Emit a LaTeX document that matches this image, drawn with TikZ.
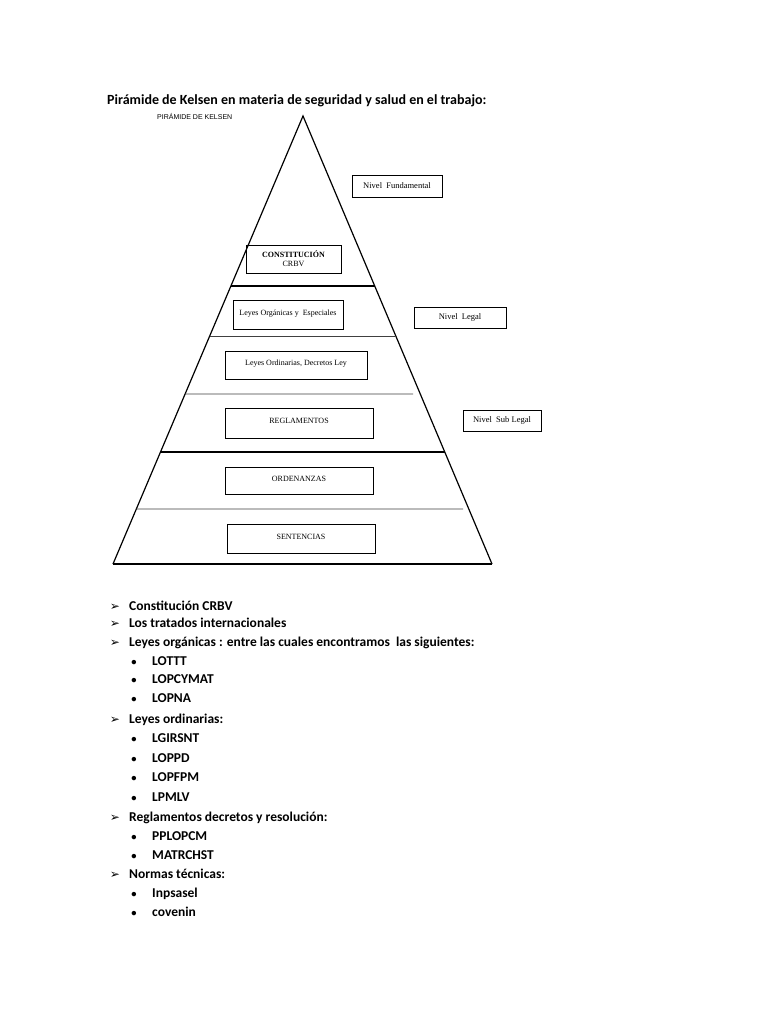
\documentclass[tikz,border=0pt]{standalone}
\usepackage{fontspec}
\setmainfont{Liberation Serif}
\newfontfamily\carlito{Carlito}
\newfontfamily\arialf{Liberation Sans}
\newfontfamily\dejavu{DejaVu Sans}
\usetikzlibrary{calc}
\tikzset{
  layerbox/.style={draw, line width=0.6pt, inner sep=0pt, font=\fontsize{8}{9.5}\selectfont, align=center},
  levelbox/.style={draw, line width=0.6pt, inner sep=0pt, font=\fontsize{8.5}{10}\selectfont},
  thickline/.style={line width=1.5pt},
  thinline/.style={line width=0.6pt, black!75},
  side/.style={line width=1.2pt},
  mainitem/.style={anchor=base west, inner sep=0pt, font=\carlito\bfseries\fontsize{13.5}{15}\selectfont},
  subitem/.style={anchor=base west, inner sep=0pt, font=\carlito\bfseries\fontsize{13.5}{15}\selectfont},
  arrowmark/.style={anchor=base, inner sep=0pt, font=\dejavu\fontsize{12}{13}\selectfont},
  bulletmark/.style={anchor=base, inner sep=0pt, font=\carlito\bfseries\fontsize{10.5}{12}\selectfont},
}
\begin{document}
\begin{tikzpicture}[x=1pt,y=-1pt]
\useasboundingbox[fill=white] (0,0) rectangle (768,1024);
% title
\node[anchor=base west, inner sep=0pt, font=\carlito\bfseries\fontsize{14}{16}\selectfont] (title) at (107,105) {Pirámide de Kelsen en materia de seguridad y salud en el trabajo:};
\node[anchor=west, inner sep=0pt, font=\arialf\fontsize{7}{8}\selectfont] (ptitle) at (157,117) {PIRÁMIDE DE KELSEN};
% pyramid
\coordinate (apex) at (303,116);
\coordinate (bl) at (113,564);
\coordinate (br) at (492,564);
\draw[side] (bl) -- (apex) -- (br);
\draw[thickline] (bl) -- (br);
\draw[thickline] ($(apex)!{(286-116)/448}!(bl)$) -- ($(apex)!{(286-116)/448}!(br)$);
\draw[thinline] ($(apex)!{(336-116)/448}!(bl)$) -- ($(apex)!{(336-116)/448}!(br)$);
\draw[thinline] ($(apex)!{(394-116)/448}!(bl)$) -- (413,394);
\draw[thickline, line width=1.2pt] ($(apex)!{(452-116)/448}!(bl)$) -- ($(apex)!{(452-116)/448}!(br)$);
\draw[thinline] ($(apex)!{(509-116)/448}!(bl)$) -- (463,509);
% layer boxes
\node[layerbox, minimum width=95pt, minimum height=28pt] (const) at (293.5,259) {\raisebox{1pt}{\shortstack{\textbf{CONSTITUCIÓN}\\CRBV}}};
\node[layerbox, minimum width=110pt, minimum height=29pt] (organicas) at (288,314.5) {\raisebox{4pt}{Leyes Orgánicas y \ Especiales}};
\node[layerbox, minimum width=142pt, minimum height=28pt] (ordinarias) at (296,365) {\raisebox{4pt}{Leyes Ordinarias, Decretos Ley}};
\node[layerbox, minimum width=148pt, minimum height=30pt] (reglamentos) at (299,423) {\raisebox{4pt}{REGLAMENTOS}};
\node[layerbox, minimum width=148pt, minimum height=27pt] (ordenanzas) at (299,480.5) {\raisebox{4pt}{ORDENANZAS}};
\node[layerbox, minimum width=148pt, minimum height=29pt] (sentencias) at (301,538.5) {\raisebox{3pt}{SENTENCIAS}};
% level boxes
\node[levelbox, minimum width=90pt, minimum height=22pt] (fund) at (397,186) {Nivel \ Fundamental};
\node[levelbox, minimum width=92pt, minimum height=21pt] (legal) at (460,317.5) {Nivel \ Legal};
\node[levelbox, minimum width=78pt, minimum height=21pt] (sublegal) at (502,420.5) {Nivel \ Sub Legal};
% list
\foreach \n/\y/\t in {a1/606/Constitución CRBV, a2/623/Los tratados internacionales, a3/642/Leyes orgánicas : entre las cuales encontramos \ las siguientes:, a4/719/Leyes ordinarias:, a5/817/Reglamentos decretos y resolución:, a6/874/Normas técnicas:}{
  \node[arrowmark] (m\n) at (115,\y+4.5) {➢};
  \node[mainitem] (\n) at (129,\y+4.5) {\t};
}
\foreach \n/\y/\t in {b1/661/LOTTT, b2/679/LOPCYMAT, b3/698/LOPNA, b4/738/LGIRSNT, b5/758/LOPPD, b6/777/LOPFPM, b7/797/LPMLV, b8/836/PPLOPCM, b9/855/MATRCHST, b10/893/Inpsasel, b11/912/covenin}{
  \node[bulletmark] (m\n) at (134,\y+4) {•};
  \node[subitem] (\n) at (152,\y+4.5) {\t};
}
\end{tikzpicture}
\end{document}
